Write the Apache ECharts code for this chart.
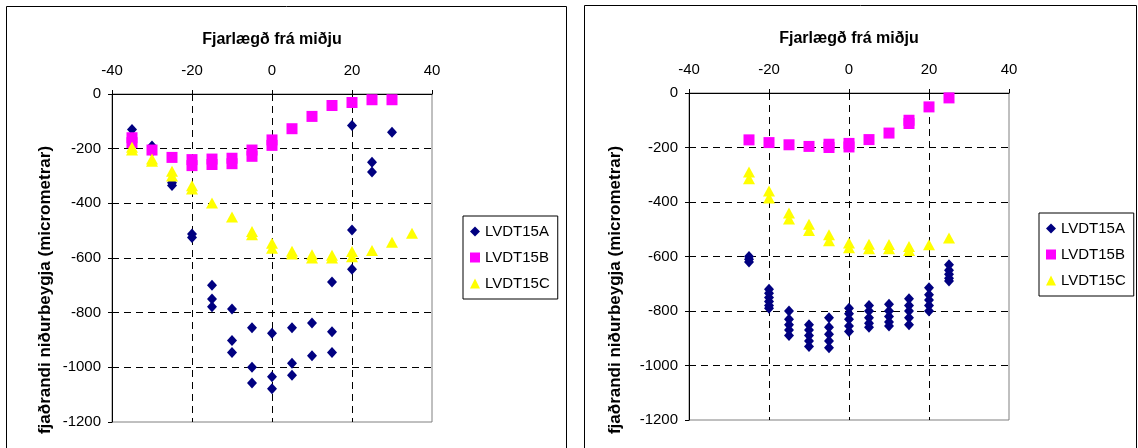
<!DOCTYPE html>
<html><head><meta charset="utf-8">
<script src="https://cdn.jsdelivr.net/npm/echarts@6/dist/echarts.min.js"></script>
<style>html,body{margin:0;padding:0;background:#fff}#c{width:1138px;height:448px}</style>
</head><body><div id="c"></div>
<script>
const seriesNames = ['LVDT15A','LVDT15B','LVDT15C'];
const xTitle = 'Fjarlægð frá miðju';
const yTitle = 'fjaðrandi niðurbeygja (micrometrar)';

const leftA = [[-35,-130],[-30,-190],[-30,-210],[-25,-325],[-25,-335],[-20,-512],[-20,-525],[-15,-700],[-15,-750],[-15,-778],[-10,-787],[-10,-902],[-10,-946],[-5,-855],[-5,-1000],[-5,-1057],[0,-875],[0,-1034],[0,-1078],[5,-855],[5,-985],[5,-1029],[10,-838],[10,-958],[15,-688],[15,-870],[15,-946],[20,-115],[20,-498],[20,-641],[25,-250],[25,-285],[30,-140]];
const leftB = [[-35,-160],[-35,-178],[-30,-205],[-25,-232],[-20,-240],[-20,-262],[-15,-238],[-15,-258],[-10,-235],[-10,-255],[-5,-205],[-5,-228],[0,-168],[0,-188],[5,-127],[10,-82],[15,-42],[20,-31],[25,-21],[30,-21]];
const leftC = [[-35,-195],[-35,-205],[-30,-238],[-30,-246],[-25,-283],[-25,-300],[-20,-336],[-20,-348],[-15,-399],[-10,-450],[-5,-503],[-5,-515],[0,-546],[0,-564],[5,-575],[5,-585],[10,-588],[10,-600],[15,-590],[15,-600],[20,-576],[20,-595],[25,-573],[30,-542],[35,-509]];

const rightA = [[-25,-600],[-25,-610],[-25,-620],
 [-20,-720],[-20,-735],[-20,-750],[-20,-765],[-20,-780],[-20,-790],
 [-15,-800],[-15,-830],[-15,-850],[-15,-870],[-15,-890],
 [-10,-850],[-10,-870],[-10,-890],[-10,-910],[-10,-930],
 [-5,-825],[-5,-860],[-5,-885],[-5,-910],[-5,-935],
 [0,-790],[0,-810],[0,-830],[0,-855],[0,-875],
 [5,-780],[5,-800],[5,-825],[5,-845],[5,-860],
 [10,-775],[10,-800],[10,-820],[10,-840],[10,-855],
 [15,-755],[15,-780],[15,-800],[15,-825],[15,-850],
 [20,-715],[20,-740],[20,-760],[20,-780],[20,-800],
 [25,-630],[25,-650],[25,-665],[25,-680],[25,-690]];
const rightB = [[-25,-172],[-20,-182],[-15,-190],[-10,-196],[-5,-188],[-5,-200],[0,-185],[0,-198],[5,-171],[10,-147],[15,-100],[15,-112],[20,-51],[25,-18]];
const rightC = [[-25,-290],[-25,-315],[-20,-360],[-20,-385],[-15,-440],[-15,-462],[-10,-482],[-10,-505],[-5,-520],[-5,-542],[0,-550],[0,-568],[5,-555],[5,-572],[10,-556],[10,-572],[15,-563],[15,-578],[20,-557],[25,-532]];

const FONT = "'Liberation Sans', Arial, sans-serif";
const colors = ['#000080','#FF00FF','#FFFF00'];
const symbols = ['diamond','rect','triangle'];
const sizes = [[10,11],[11,11],[12,11]];

function xAx(gi){
  return {gridIndex:gi,type:'value',position:'top',min:-40,max:40,interval:20,
    name:xTitle,nameLocation:'middle',nameGap:46,
    nameTextStyle:{fontFamily:FONT,fontSize:16,fontWeight:'bold',color:'#000'},
    axisLine:{onZero:false,lineStyle:{color:'#000',width:1}},
    axisTick:{show:true,inside:false,length:4,lineStyle:{color:'#000'}},
    axisLabel:{fontFamily:FONT,fontSize:15,color:'#000',margin:16,formatter:v=>String(v)},
    splitLine:{show:true,showMinLine:false,showMaxLine:false,lineStyle:{color:'#000',type:[7,5],width:1}}};
}
function yAx(gi){
  return {gridIndex:gi,type:'value',min:-1200,max:0,interval:200,
    axisLine:{show:true,onZero:false,lineStyle:{color:'#000',width:1}},
    axisTick:{show:true,inside:false,length:4,lineStyle:{color:'#000'}},
    axisLabel:{fontFamily:FONT,fontSize:15,color:'#000',margin:11,formatter:v=>String(v)},
    splitLine:{show:true,showMinLine:false,showMaxLine:false,lineStyle:{color:'#000',type:[7,5],width:1}}};
}
function mk(name,data,gi,i){
  return {name:name,type:'scatter',xAxisIndex:gi,yAxisIndex:gi,data:data,
    symbol:symbols[i],symbolSize:sizes[i],itemStyle:{color:colors[i],opacity:1},
    emphasis:{disabled:true},z:2+i};
}
function leg(left,top){
  return {orient:'vertical',left:left,top:top,data:seriesNames,
    padding:[8,8,8,7],itemGap:11,itemWidth:10,itemHeight:10,itemTextGap:5,
    borderColor:'#000',borderWidth:1,backgroundColor:'#fff',
    textStyle:{fontFamily:FONT,fontSize:15,color:'#000'}};
}
const chart = echarts.init(document.getElementById('c'),null,{renderer:'canvas'});
chart.setOption({
  animation:false,
  grid:[{left:112,top:94,width:320,height:328,show:true,borderColor:'#808080',borderWidth:1,backgroundColor:'#fff'},
        {left:689,top:93,width:320,height:327,show:true,borderColor:'#808080',borderWidth:1,backgroundColor:'#fff'}],
  xAxis:[xAx(0),xAx(1)],
  yAxis:[yAx(0),yAx(1)],
  legend:[leg(463,216),leg(1039,213)],
  series:[mk(seriesNames[0],leftA,0,0),mk(seriesNames[1],leftB,0,1),mk(seriesNames[2],leftC,0,2),
          mk(seriesNames[0],rightA,1,0),mk(seriesNames[1],rightB,1,1),mk(seriesNames[2],rightC,1,2)],
  graphic:[
    {type:'rect',shape:{x:6.5,y:6.5,width:560,height:470},style:{fill:null,stroke:'#000',lineWidth:1},z:-10},
    {type:'rect',shape:{x:584.5,y:5.5,width:552,height:470},style:{fill:null,stroke:'#000',lineWidth:1},z:-10},
    {type:'text',x:45,y:290,rotation:Math.PI/2,style:{text:yTitle,fontFamily:FONT,fontSize:17,fontWeight:'bold',fill:'#000',align:'center',verticalAlign:'middle'}},
    {type:'text',x:615,y:290,rotation:Math.PI/2,style:{text:yTitle,fontFamily:FONT,fontSize:17,fontWeight:'bold',fill:'#000',align:'center',verticalAlign:'middle'}}
  ]
});
</script></body></html>
